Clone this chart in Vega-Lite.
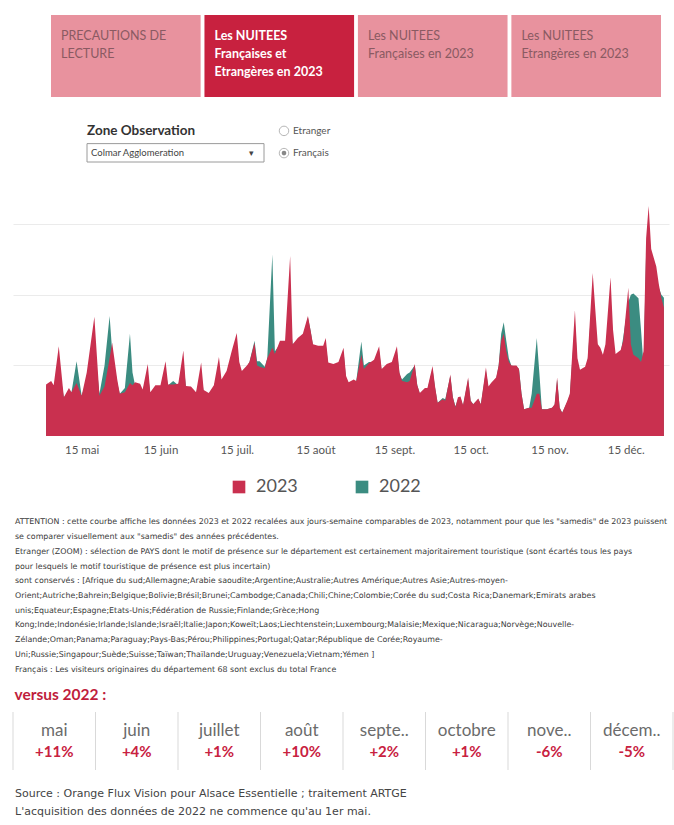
{
"$schema": "https://vega.github.io/schema/vega-lite/v6.json",
"background": "white",
"padding": {"left": 12, "top": 15, "right": 0, "bottom": 0},
"config": {"view": {"stroke": null}, "font": "Lato", "text": {"font": "Lato"}, "title": {"font": "Lato"}, "axis": {"labelFont": "Lato"}, "legend": {"labelFont": "Lato"}},
"datasets": {
"tabs": [
{"tab": "t1", "sel": "non", "txt": "PRECAUTIONS DE|LECTURE"},
{"tab": "t2", "sel": "oui", "txt": "Les NUITEES|Françaises et|Etrangères en 2023"},
{"tab": "t3", "sel": "non", "txt": "Les NUITEES|Françaises en 2023"},
{"tab": "t4", "sel": "non", "txt": "Les NUITEES|Etrangères en 2023"}
],
"series": [
{"d":"2023-05-01","2023":0.73,"2022":0.70},{"d":"2023-05-03","2023":0.78,"2022":0.74},{"d":"2023-05-04","2023":0.72,"2022":0.70},{"d":"2023-05-06","2023":1.27,"2022":1.00},{"d":"2023-05-08","2023":0.55,"2022":0.55},{"d":"2023-05-10","2023":0.68,"2022":0.62},{"d":"2023-05-11","2023":0.62,"2022":0.62},{"d":"2023-05-13","2023":0.75,"2022":1.06},{"d":"2023-05-15","2023":0.57,"2022":0.57},{"d":"2023-05-17","2023":0.90,"2022":0.80},{"d":"2023-05-20","2023":1.69,"2022":1.30},{"d":"2023-05-22","2023":0.57,"2022":0.60},{"d":"2023-05-24","2023":0.70,"2022":1.00},{"d":"2023-05-26","2023":1.10,"2022":1.70},{"d":"2023-05-27","2023":1.32,"2022":1.20},{"d":"2023-05-29","2023":0.80,"2022":0.75},{"d":"2023-05-30","2023":0.60,"2022":0.60},
{"d":"2023-06-01","2023":0.62,"2022":0.68},{"d":"2023-06-03","2023":0.75,"2022":1.45},{"d":"2023-06-04","2023":0.72,"2022":0.90},{"d":"2023-06-05","2023":0.76,"2022":0.72},{"d":"2023-06-07","2023":0.74,"2022":0.70},{"d":"2023-06-08","2023":0.66,"2022":0.64},{"d":"2023-06-10","2023":1.02,"2022":0.90},{"d":"2023-06-11","2023":0.62,"2022":0.60},{"d":"2023-06-13","2023":0.72,"2022":0.70},{"d":"2023-06-15","2023":0.72,"2022":0.68},{"d":"2023-06-17","2023":1.06,"2022":0.90},{"d":"2023-06-18","2023":0.73,"2022":0.72},{"d":"2023-06-20","2023":0.73,"2022":0.78},{"d":"2023-06-22","2023":0.74,"2022":0.72},{"d":"2023-06-24","2023":1.21,"2022":1.05},{"d":"2023-06-25","2023":0.71,"2022":0.70},{"d":"2023-06-27","2023":0.70,"2022":0.68},{"d":"2023-06-29","2023":0.62,"2022":0.60},
{"d":"2023-07-01","2023":1.04,"2022":0.90},{"d":"2023-07-02","2023":0.65,"2022":0.62},{"d":"2023-07-04","2023":0.61,"2022":0.60},{"d":"2023-07-06","2023":0.72,"2022":0.70},{"d":"2023-07-08","2023":1.12,"2022":0.95},{"d":"2023-07-09","2023":0.80,"2022":0.75},{"d":"2023-07-11","2023":0.92,"2022":0.85},{"d":"2023-07-13","2023":1.20,"2022":1.00},{"d":"2023-07-15","2023":1.46,"2022":1.25},{"d":"2023-07-16","2023":1.05,"2022":1.00},{"d":"2023-07-17","2023":0.92,"2022":0.90},{"d":"2023-07-19","2023":1.00,"2022":0.98},{"d":"2023-07-20","2023":1.05,"2022":1.05},{"d":"2023-07-22","2023":1.32,"2022":1.35},{"d":"2023-07-23","2023":1.00,"2022":1.06},{"d":"2023-07-24","2023":0.98,"2022":1.06},{"d":"2023-07-26","2023":0.96,"2022":0.98},{"d":"2023-07-27","2023":1.10,"2022":1.10},{"d":"2023-07-29","2023":1.25,"2022":2.57},{"d":"2023-07-30","2023":1.16,"2022":1.20},
{"d":"2023-08-01","2023":1.35,"2022":1.30},{"d":"2023-08-03","2023":1.35,"2022":1.30},{"d":"2023-08-05","2023":2.55,"2022":1.60},{"d":"2023-08-06","2023":1.30,"2022":1.30},{"d":"2023-08-08","2023":1.39,"2022":1.35},{"d":"2023-08-10","2023":1.45,"2022":1.40},{"d":"2023-08-12","2023":1.70,"2022":1.68},{"d":"2023-08-13","2023":1.50,"2022":1.50},{"d":"2023-08-14","2023":1.30,"2022":1.28},{"d":"2023-08-16","2023":1.28,"2022":1.25},{"d":"2023-08-18","2023":1.28,"2022":1.25},{"d":"2023-08-19","2023":1.39,"2022":1.30},{"d":"2023-08-20","2023":1.04,"2022":1.00},{"d":"2023-08-22","2023":1.02,"2022":1.00},{"d":"2023-08-24","2023":1.05,"2022":1.00},{"d":"2023-08-26","2023":1.25,"2022":1.20},{"d":"2023-08-27","2023":0.85,"2022":0.80},{"d":"2023-08-28","2023":0.76,"2022":0.75},{"d":"2023-08-30","2023":0.80,"2022":0.78},{"d":"2023-08-31","2023":0.78,"2022":0.78},
{"d":"2023-09-02","2023":1.15,"2022":1.34},{"d":"2023-09-03","2023":0.95,"2022":1.00},{"d":"2023-09-05","2023":1.03,"2022":1.05},{"d":"2023-09-07","2023":1.08,"2022":1.05},{"d":"2023-09-09","2023":1.27,"2022":1.20},{"d":"2023-09-10","2023":0.95,"2022":0.92},{"d":"2023-09-12","2023":1.02,"2022":1.00},{"d":"2023-09-14","2023":1.05,"2022":1.00},{"d":"2023-09-16","2023":1.27,"2022":1.20},{"d":"2023-09-17","2023":0.90,"2022":0.88},{"d":"2023-09-18","2023":0.78,"2022":0.80},{"d":"2023-09-20","2023":0.76,"2022":0.88},{"d":"2023-09-21","2023":0.78,"2022":0.90},{"d":"2023-09-23","2023":1.02,"2022":1.00},{"d":"2023-09-24","2023":0.72,"2022":0.72},{"d":"2023-09-25","2023":0.61,"2022":0.60},{"d":"2023-09-27","2023":0.68,"2022":0.66},{"d":"2023-09-28","2023":0.68,"2022":0.66},{"d":"2023-09-30","2023":0.99,"2022":0.95},
{"d":"2023-10-01","2023":0.70,"2022":0.68},{"d":"2023-10-02","2023":0.47,"2022":0.47},{"d":"2023-10-04","2023":0.52,"2022":0.54},{"d":"2023-10-05","2023":0.50,"2022":0.52},{"d":"2023-10-07","2023":0.87,"2022":0.85},{"d":"2023-10-08","2023":0.55,"2022":0.55},{"d":"2023-10-09","2023":0.41,"2022":0.42},{"d":"2023-10-10","2023":0.55,"2022":0.52},{"d":"2023-10-11","2023":0.56,"2022":0.54},{"d":"2023-10-12","2023":0.44,"2022":0.43},{"d":"2023-10-14","2023":0.83,"2022":0.80},{"d":"2023-10-15","2023":0.50,"2022":0.50},{"d":"2023-10-16","2023":0.45,"2022":0.45},{"d":"2023-10-18","2023":0.53,"2022":0.52},{"d":"2023-10-19","2023":0.45,"2022":0.45},{"d":"2023-10-21","2023":0.97,"2022":0.92},{"d":"2023-10-22","2023":0.70,"2022":0.68},{"d":"2023-10-23","2023":0.75,"2022":0.72},{"d":"2023-10-25","2023":0.83,"2022":0.80},{"d":"2023-10-26","2023":1.00,"2022":1.00},{"d":"2023-10-27","2023":1.35,"2022":1.45},{"d":"2023-10-28","2023":1.45,"2022":1.61},{"d":"2023-10-29","2023":1.20,"2022":1.35},{"d":"2023-10-30","2023":1.05,"2022":1.10},{"d":"2023-10-31","2023":1.00,"2022":1.00},
{"d":"2023-11-02","2023":1.00,"2022":0.98},{"d":"2023-11-03","2023":0.95,"2022":0.95},{"d":"2023-11-04","2023":0.60,"2022":0.60},{"d":"2023-11-05","2023":0.38,"2022":0.38},{"d":"2023-11-07","2023":0.40,"2022":0.40},{"d":"2023-11-08","2023":0.40,"2022":0.60},{"d":"2023-11-10","2023":0.60,"2022":1.39},{"d":"2023-11-11","2023":0.60,"2022":0.90},{"d":"2023-11-12","2023":0.38,"2022":0.38},{"d":"2023-11-14","2023":0.38,"2022":0.38},{"d":"2023-11-16","2023":0.40,"2022":0.40},{"d":"2023-11-17","2023":0.45,"2022":0.43},{"d":"2023-11-18","2023":0.83,"2022":0.80},{"d":"2023-11-19","2023":0.40,"2022":0.40},{"d":"2023-11-20","2023":0.33,"2022":0.33},{"d":"2023-11-22","2023":0.50,"2022":0.48},{"d":"2023-11-23","2023":0.60,"2022":0.58},{"d":"2023-11-24","2023":1.20,"2022":1.10},{"d":"2023-11-25","2023":1.78,"2022":1.60},{"d":"2023-11-26","2023":1.10,"2022":1.00},{"d":"2023-11-27","2023":0.94,"2022":0.92},{"d":"2023-11-29","2023":0.98,"2022":0.95},{"d":"2023-11-30","2023":1.10,"2022":1.05},
{"d":"2023-12-02","2023":2.31,"2022":2.10},{"d":"2023-12-03","2023":1.80,"2022":1.50},{"d":"2023-12-04","2023":1.30,"2022":1.25},{"d":"2023-12-05","2023":1.25,"2022":1.20},{"d":"2023-12-06","2023":1.15,"2022":1.10},{"d":"2023-12-07","2023":1.30,"2022":1.20},{"d":"2023-12-09","2023":2.25,"2022":2.00},{"d":"2023-12-10","2023":1.50,"2022":1.30},{"d":"2023-12-11","2023":1.16,"2022":1.12},{"d":"2023-12-13","2023":1.22,"2022":1.18},{"d":"2023-12-14","2023":1.35,"2022":1.40},{"d":"2023-12-16","2023":2.10,"2022":1.90},{"d":"2023-12-17","2023":1.30,"2022":2.00},{"d":"2023-12-18","2023":1.15,"2022":2.02},{"d":"2023-12-20","2023":1.10,"2022":1.95},{"d":"2023-12-21","2023":1.05,"2022":1.50},{"d":"2023-12-22","2023":1.20,"2022":1.00},{"d":"2023-12-23","2023":2.80,"2022":2.60},{"d":"2023-12-24","2023":3.26,"2022":2.90},{"d":"2023-12-25","2023":2.65,"2022":2.55},{"d":"2023-12-27","2023":2.40,"2022":2.30},{"d":"2023-12-28","2023":2.15,"2022":2.10},{"d":"2023-12-29","2023":1.95,"2022":2.00},{"d":"2023-12-30","2023":1.82,"2022":1.96}
],
"notes": [
{"n": 1, "t": "ATTENTION : cette courbe affiche les données 2023 et 2022 recalées aux jours-semaine comparables de 2023, notamment pour que les \"samedis\" de 2023 puissent"},
{"n": 2, "t": "se comparer visuellement aux \"samedis\" des années précédentes."},
{"n": 3, "t": "Etranger (ZOOM) : sélection de PAYS dont le motif de présence sur le département est certainement majoritairement touristique (sont écartés tous les pays"},
{"n": 4, "t": "pour lesquels le motif touristique de présence est plus incertain)"},
{"n": 5, "t": "sont conservés : [Afrique du sud;Allemagne;Arabie saoudite;Argentine;Australie;Autres Amérique;Autres Asie;Autres-moyen-"},
{"n": 6, "t": "Orient;Autriche;Bahrein;Belgique;Bolivie;Brésil;Brunei;Cambodge;Canada;Chili;Chine;Colombie;Corée du sud;Costa Rica;Danemark;Emirats arabes"},
{"n": 7, "t": "unis;Equateur;Espagne;Etats-Unis;Fédération de Russie;Finlande;Grèce;Hong"},
{"n": 8, "t": "Kong;Inde;Indonésie;Irlande;Islande;Israël;Italie;Japon;Koweït;Laos;Liechtenstein;Luxembourg;Malaisie;Mexique;Nicaragua;Norvège;Nouvelle-"},
{"n": 9, "t": "Zélande;Oman;Panama;Paraguay;Pays-Bas;Pérou;Philippines;Portugal;Qatar;République de Corée;Royaume-"},
{"n": 10, "t": "Uni;Russie;Singapour;Suède;Suisse;Taïwan;Thaïlande;Uruguay;Venezuela;Vietnam;Yémen ]"},
{"n": 11, "t": "Français : Les visiteurs originaires du département 68 sont exclus du total France"}
],
"months": [
{"m": "mai", "p": "+11%"}, {"m": "juin", "p": "+4%"}, {"m": "juillet", "p": "+1%"}, {"m": "août", "p": "+10%"},
{"m": "septe..", "p": "+2%"}, {"m": "octobre", "p": "+1%"}, {"m": "nove..", "p": "-6%"}, {"m": "décem..", "p": "-5%"}
],
"src": [
{"n": 1, "t": "Source : Orange Flux Vision pour Alsace Essentielle  ; traitement ARTGE"},
{"n": 2, "t": "L'acquisition des données de 2022 ne commence qu'au 1er mai."}
]
},
"spacing": 25,
"vconcat": [
{
"width": 656, "height": 82,
"data": {"name": "tabs"},
"layer": [
{"mark": {"type": "rect"},
 "encoding": {
  "x": {"field": "tab", "type": "nominal", "sort": null, "scale": {"type": "band", "range": [38, 648], "paddingInner": 0.025, "paddingOuter": 0}, "axis": null},
  "fill": {"field": "sel", "type": "nominal", "scale": {"domain": ["oui", "non"], "range": ["#c8213f", "#e8929e"]}, "legend": null}
 }},
{"transform": [{"filter": "datum.sel == 'non'"}],
 "mark": {"type": "text", "align": "left", "baseline": "top", "dx": 10, "dy": -26, "fontSize": 12.5, "lineHeight": 18, "lineBreak": "|", "color": "#8a5a62"},
 "encoding": {"x": {"field": "tab", "type": "nominal", "sort": null, "bandPosition": 0}, "text": {"field": "txt"}}},
{"transform": [{"filter": "datum.sel == 'oui'"}],
 "mark": {"type": "text", "align": "left", "baseline": "top", "dx": 10, "dy": -26, "fontSize": 12.5, "fontWeight": "bold", "lineHeight": 18, "lineBreak": "|", "color": "white"},
 "encoding": {"x": {"field": "tab", "type": "nominal", "sort": null, "bandPosition": 0}, "text": {"field": "txt"}}}
]
},
{
"spacing": 33,
"vconcat": [
{
"spacing": 12,
"hconcat": [
{"width": 61, "height": 10, "data": {"values": []}, "mark": "text", "encoding": {}},
{"width": 177, "height": 40,
 "data": {"values": [{"r": "title", "t": "Zone Observation"}, {"r": "box", "t": "Colmar Agglomeration"}]},
 "encoding": {"y": {"field": "r", "type": "nominal", "scale": {"type": "band", "domain": ["title", "box"], "paddingInner": 0.15, "paddingOuter": 0}, "axis": null}},
 "layer": [
  {"transform": [{"filter": "datum.r == 'box'"}], "mark": {"type": "rect", "fill": "white", "stroke": "#9a9a9a", "strokeWidth": 1}},
  {"transform": [{"filter": "datum.r == 'title'"}], "mark": {"type": "text", "align": "left", "fontSize": 13.5, "fontWeight": "bold", "color": "#333333"},
   "encoding": {"x": {"field": "r", "type": "nominal", "bandPosition": 0, "scale": {"type": "band", "domain": ["title"], "paddingInner": 0, "paddingOuter": 0}, "axis": null}, "text": {"field": "t"}}},
  {"transform": [{"filter": "datum.r == 'box'"}], "mark": {"type": "text", "align": "left", "fontSize": 9.5, "color": "#444444", "dx": 4},
   "encoding": {"x": {"field": "r", "type": "nominal", "bandPosition": 0, "axis": null}, "text": {"field": "t"}}},
  {"transform": [{"filter": "datum.r == 'box'"}], "mark": {"type": "text", "align": "right", "fontSize": 9, "color": "#444444", "dx": 167, "text": "▾"},
   "encoding": {"x": {"field": "r", "type": "nominal", "bandPosition": 0, "axis": null}}}
 ]},
{"width": 14, "height": 40,
 "data": {"values": [{"o": "Etranger", "s": 0}, {"o": "Français", "s": 1}]},
 "encoding": {"y": {"field": "o", "type": "nominal", "scale": {"domain": ["Etranger", "Français"], "padding": 0.4}, "axis": null}},
 "layer": [
  {"mark": {"type": "point", "shape": "circle", "size": 90, "filled": true, "fill": "white", "stroke": "#999999", "strokeWidth": 1}},
  {"transform": [{"filter": "datum.s == 1"}], "mark": {"type": "point", "shape": "circle", "size": 22, "filled": true, "color": "#555555"}},
  {"mark": {"type": "text", "align": "left", "dx": 9, "fontSize": 10, "color": "#555555"}, "encoding": {"text": {"field": "o"}}}
 ]}
]
},
{
"spacing": 59,
"vconcat": [
{
"width": 656, "height": 240,
"data": {"name": "series"},
"transform": [{"fold": ["2023", "2022"], "as": ["year", "v"]}],
"encoding": {
 "x": {"field": "d", "type": "temporal",
  "scale": {"type": "utc", "domain": [{"year": 2023, "month": 4, "date": 18, "utc": true}, {"year": 2024, "month": 1, "date": 1, "utc": true}]},
  "axis": {"values": [
    {"year": 2023, "month": 5, "date": 15, "utc": true}, {"year": 2023, "month": 6, "date": 15, "utc": true},
    {"year": 2023, "month": 7, "date": 15, "utc": true}, {"year": 2023, "month": 8, "date": 15, "utc": true},
    {"year": 2023, "month": 9, "date": 15, "utc": true}, {"year": 2023, "month": 10, "date": 15, "utc": true},
    {"year": 2023, "month": 11, "date": 15, "utc": true}, {"year": 2023, "month": 12, "date": 15, "utc": true}],
   "labelExpr": "'15 ' + ['janv.','févr.','mars','avr.','mai','juin','juil.','août','sept.','oct.','nov.','déc.'][utcmonth(datum.value)]",
   "ticks": false, "domain": false, "grid": false, "title": null, "labelColor": "#555555", "labelFontSize": 11.5, "labelPadding": 8}},
 "y": {"field": "v", "type": "quantitative", "stack": null,
  "scale": {"domain": [0, 3.4], "nice": false},
  "axis": {"values": [1, 2, 3], "labels": false, "ticks": false, "domain": false, "grid": true, "gridColor": "#ebebeb", "title": null}},
 "color": {"field": "year", "type": "nominal",
  "scale": {"domain": ["2023", "2022"], "range": ["#c9304f", "#3b8c81"]},
  "legend": {"orient": "none", "legendX": 217, "legendY": 463, "direction": "horizontal", "title": null, "padding": 0,
   "symbolType": "square", "symbolSize": 160, "symbolStrokeWidth": 0, "symbolOpacity": 1,
   "labelFontSize": 18, "labelColor": "#555555", "labelOffset": 8, "columnPadding": 55}}
},
"layer": [
 {"transform": [{"filter": "datum.year == '2022'"}], "mark": {"type": "area", "opacity": 1}},
 {"transform": [{"filter": "datum.year == '2023'"}], "mark": {"type": "area", "opacity": 1}}
]
},
{
"spacing": 11,
"vconcat": [
{
"width": 660, "height": 162,
"data": {"name": "notes"},
"mark": {"type": "text", "align": "left", "baseline": "middle", "font": "DejaVu Sans", "fontSize": 7.9, "color": "#3a3a3a", "clip": true, "dx": 2},
"encoding": {
 "x": {"datum": "a", "type": "nominal", "bandPosition": 0, "scale": {"type": "band", "paddingInner": 0, "paddingOuter": 0}, "axis": null},
 "y": {"field": "n", "type": "ordinal", "axis": null},
 "text": {"field": "t"}
}
},
{
"spacing": 14,
"vconcat": [
{
"width": 660, "height": 58,
"title": {"text": "versus 2022 :", "anchor": "start", "fontSize": 15.5, "fontWeight": "bold", "color": "#c01d3c", "offset": 8, "dx": 2},
"data": {"name": "months"},
"encoding": {"x": {"field": "m", "type": "nominal", "sort": null, "scale": {"type": "band", "paddingInner": 0, "paddingOuter": 0}, "axis": null}},
"layer": [
 {"mark": {"type": "rule", "color": "#d9d9d9"}, "encoding": {"x": {"field": "m", "type": "nominal", "sort": null, "bandPosition": 0}}},
 {"transform": [{"filter": "datum.m == 'décem..'"}], "mark": {"type": "rule", "color": "#d9d9d9"}, "encoding": {"x": {"field": "m", "type": "nominal", "sort": null, "bandPosition": 1}}},
 {"mark": {"type": "text", "fontSize": 17, "color": "#6b6b6b", "dy": -10}, "encoding": {"text": {"field": "m"}}},
 {"mark": {"type": "text", "fontSize": 15, "fontWeight": "bold", "color": "#c8213f", "dy": 11}, "encoding": {"text": {"field": "p"}}}
]
},
{
"width": 660, "height": 36,
"data": {"name": "src"},
"mark": {"type": "text", "align": "left", "baseline": "middle", "font": "DejaVu Sans", "fontSize": 11, "color": "#444444", "dx": 2},
"encoding": {
 "x": {"datum": "a", "type": "nominal", "bandPosition": 0, "scale": {"type": "band", "paddingInner": 0, "paddingOuter": 0}, "axis": null},
 "y": {"field": "n", "type": "ordinal", "axis": null},
 "text": {"field": "t"}
}
}
]
}
]
}
]
}
]
}
]
}
